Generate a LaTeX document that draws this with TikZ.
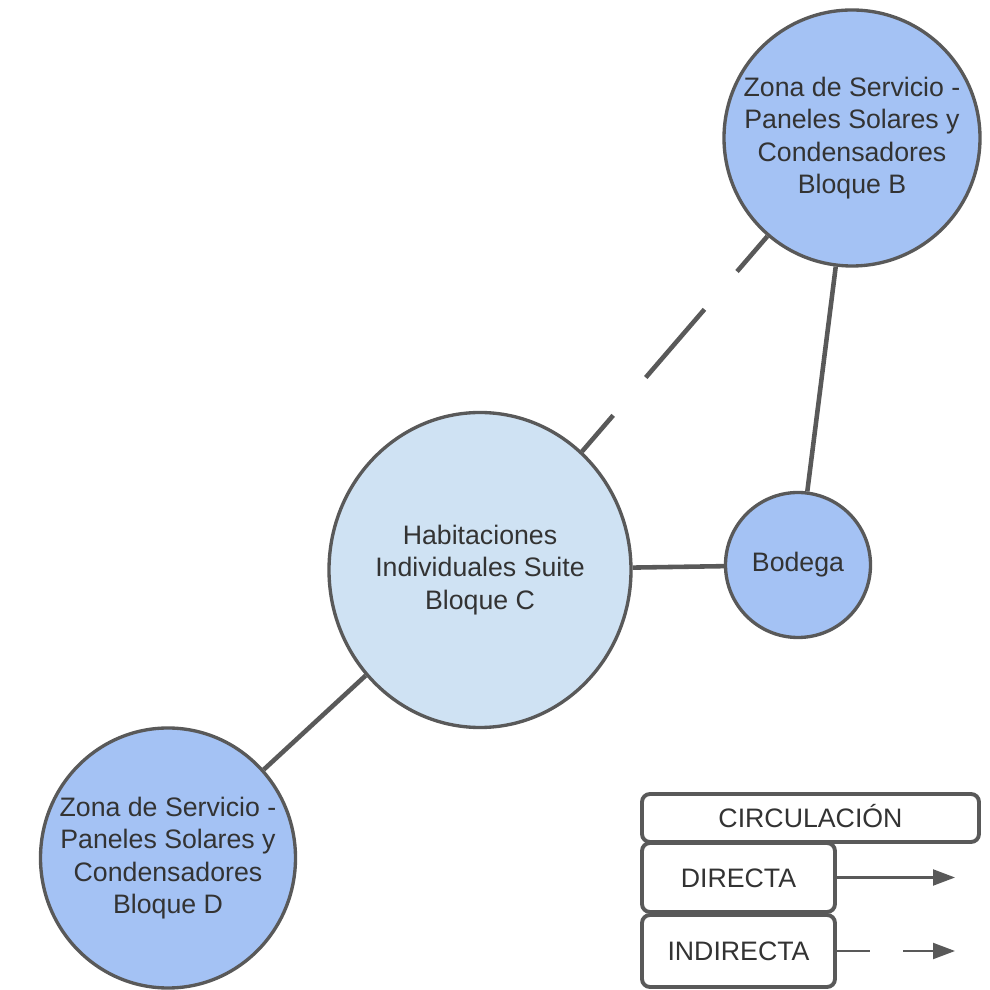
\documentclass[tikz,border=0pt]{standalone}
\usepackage{fontspec}
\setmainfont{Liberation Sans}
\usetikzlibrary{shapes.geometric,arrows.meta}

\definecolor{bordegris}{HTML}{595959}
\definecolor{textogris}{HTML}{333333}
\definecolor{zonaazul}{HTML}{A4C2F4}
\definecolor{suiteazul}{HTML}{CFE2F3}

\tikzset{
    zona/.style={ellipse,draw=bordegris,line width=0.95pt,fill=zonaazul,inner sep=-0.5cm,
        align=center,text=textogris,font=\fontsize{7.6pt}{9.2pt}\selectfont},
    conexion/.style={draw=bordegris,line width=1.3pt},
    leyenda/.style={draw=bordegris,line width=1.1pt,rounded corners=0.08cm,fill=white,
        text height=5.6pt,text depth=0pt,text=textogris,font=\fontsize{7.6pt}{9.2pt}\selectfont},
    flecha/.style={draw=bordegris,line width=0.6pt,-{Triangle[length=0.22cm,width=0.16cm]}}
}

\begin{document}
\begin{tikzpicture}
    \useasboundingbox (0,0) rectangle (9.89,9.90);

    %%%%%%%% Zonas %%%%%%%%%
    \node[zona,minimum width=2.56cm,minimum height=2.56cm] (bloqueB) at (8.52,8.52)
        {Zona de Servicio -\\Paneles Solares y\\Condensadores\\Bloque B};
    \node[zona,fill=suiteazul,minimum width=3.02cm,minimum height=3.15cm] (bloqueC) at (4.80,4.20)
        {Habitaciones\\Individuales Suite\\Bloque C};
    \node[zona,minimum width=1.45cm,minimum height=1.45cm] (bodega) at (7.98,4.25) {Bodega};
    \node[zona,minimum width=2.55cm,minimum height=2.60cm] (bloqueD) at (1.68,1.32)
        {Zona de Servicio -\\Paneles Solares y\\Condensadores\\Bloque D};

    %%%%%%%% Conexiones %%%%%%%%%
    \draw[conexion,dash pattern=on 25.6pt off 14.2pt,dash phase=12pt] (bloqueC) -- (bloqueB);
    \draw[conexion] (bloqueC) -- (bodega);
    \draw[conexion] (bodega) -- (bloqueB);
    \draw[conexion] (bloqueC) -- (bloqueD);

    %%%%%%%% Leyenda %%%%%%%%%
    \node[leyenda,minimum width=3.37cm,minimum height=0.48cm] (circulacion) at (8.105,1.72) {CIRCULACIÓN};
    \node[leyenda,minimum width=1.93cm,minimum height=0.69cm] (directa) at (7.385,1.125) {DIRECTA};
    \node[leyenda,minimum width=1.93cm,minimum height=0.72cm] (indirecta) at (7.385,0.39) {INDIRECTA};

    \coordinate (finDirecta) at (9.55,1.125);
    \coordinate (finIndirecta) at (9.55,0.39);
    \draw[flecha] (directa.east) -- (finDirecta);
    \draw[flecha,dash pattern=on 9.4pt off 9.4pt] (indirecta.east) -- (finIndirecta);

\end{tikzpicture}
\end{document}
